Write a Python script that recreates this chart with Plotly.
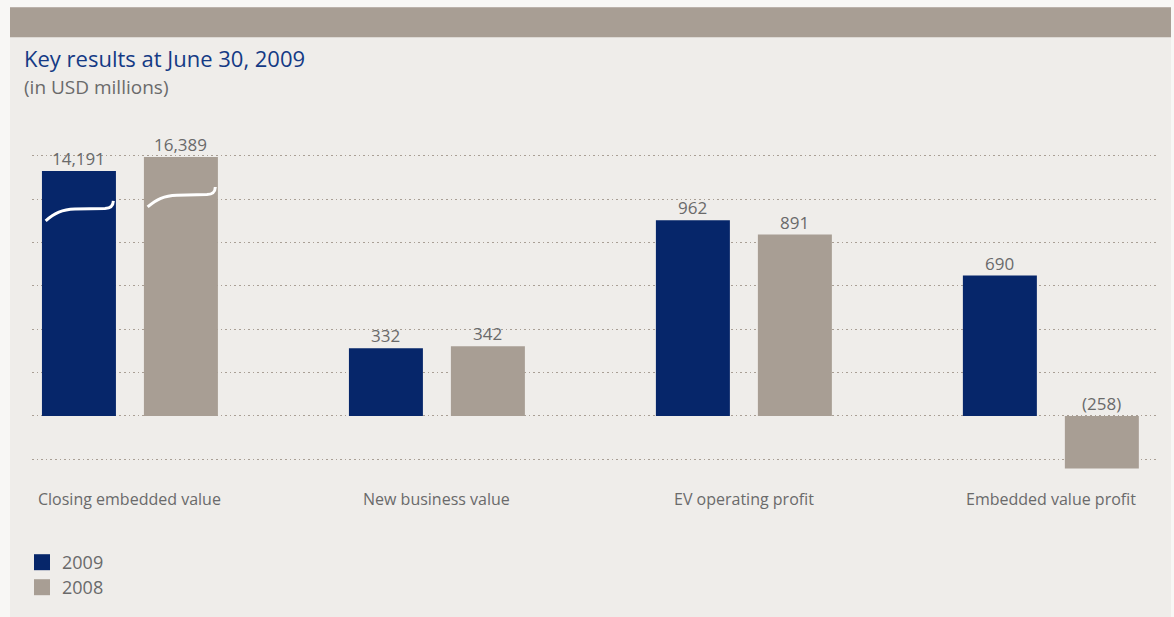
import plotly.graph_objects as go

# ---------------- data ----------------
categories = ["Closing embedded value", "New business value", "EV operating profit", "Embedded value profit"]
series_names = ["2009", "2008"]
values_2009 = [14191, 332, 962, 690]
values_2008 = [16389, 342, 891, -258]

# broken-axis transform: values above BREAK_THRESHOLD are drawn on a compressed scale
BREAK_THRESHOLD = 2000
BREAK_ORIGIN_VALUE = 14000
BREAK_ORIGIN_AXIS = 1198
BREAK_SCALE = 0.031


def axis_value(v):
    if v <= BREAK_THRESHOLD:
        return v
    return BREAK_ORIGIN_AXIS + (v - BREAK_ORIGIN_VALUE) * BREAK_SCALE


def fmt(v):
    return f"({abs(v):,})" if v < 0 else f"{v:,}"


# ---------------- layout constants ----------------
W, H = 1174, 617
ML, MR, MT, MB = 32, 16, 130, 137
PW, PH = W - ML - MR, H - MT - MB
Y_RANGE = [-310, 1405]
X_RANGE = [-0.319, 3.349]
GRID_STEP = 213
UNITS_PER_PX = (Y_RANGE[1] - Y_RANGE[0]) / PH
XUNITS_PER_PX = (X_RANGE[1] - X_RANGE[0]) / PW

NAVY = "#06266a"
TAUPE = "#a89e94"
TEXT = "#6a6a6a"
PANEL = "#efedea"
OUTER = "#f8f7f5"
FONT = "Open Sans"

BAR_W = 0.241
OFFSETS = [-0.2866, 0.0456]
COLORS = [NAVY, TAUPE]
LEGEND_Y_PX = [562.5, 587.5]


def px_x(px):
    return (px - ML) / PW


def px_y(py):
    return (H - MB - py) / PH


fig = go.Figure()
x_pos = list(range(len(categories)))
all_series = [values_2009, values_2008]
legend_names = ["legend", "legend2"]

for name, vals, off, col, lg in zip(series_names, all_series, OFFSETS, COLORS, legend_names):
    fig.add_trace(go.Bar(
        x=x_pos, y=[axis_value(v) for v in vals], width=BAR_W, offset=off,
        marker=dict(color=col, line=dict(width=0)), name=name, showlegend=False,
        hovertext=[fmt(v) for v in vals], hoverinfo="text"))
    # legend proxy
    fig.add_trace(go.Scatter(
        x=[None], y=[None], mode="markers", name=name, legend=lg,
        marker=dict(symbol="square", size=16, color=col)))

annotations = []
shapes = []

# value labels and break marks
for vals, off in zip(all_series, OFFSETS):
    for i, v in enumerate(vals):
        xc = i + off + BAR_W / 2
        top = axis_value(v)
        annotations.append(dict(
            x=xc, y=max(top, 0), xref="x", yref="y", text=fmt(v), showarrow=False,
            yanchor="bottom", xanchor="center", yshift=-1,
            font=dict(family=FONT, size=17, color=TEXT)))
        if v > BREAK_THRESHOLD:
            xl = i + off

            def P(dx, dy):
                return f"{xl + dx * XUNITS_PER_PX:.5f},{top - dy * UNITS_PER_PX:.3f}"
            path = (f"M{P(3.7, 50)} C{P(13, 42)} {P(20, 38.8)} {P(33, 38.3)} "
                    f"L{P(63, 37.6)} C{P(69, 37.3)} {P(71.2, 35)} {P(71.4, 30)}")
            shapes.append(dict(type="path", path=path, xref="x", yref="y",
                               line=dict(color="white", width=3), layer="above"))

# category labels
for i, c in enumerate(categories):
    annotations.append(dict(
        x=i, y=px_y(500), xref="x", yref="paper", text=c, showarrow=False,
        xanchor="center", yanchor="middle",
        font=dict(family=FONT, size=16, color=TEXT)))

# title & subtitle
annotations.append(dict(
    x=px_x(22), y=px_y(58), xref="paper", yref="paper", text="Key results at June 30, 2009",
    showarrow=False, xanchor="left", yanchor="middle",
    font=dict(family=FONT, size=22, color="#143a85")))
annotations.append(dict(
    x=px_x(22), y=px_y(87), xref="paper", yref="paper", text="(in USD millions)",
    showarrow=False, xanchor="left", yanchor="middle",
    font=dict(family=FONT, size=19, color=TEXT)))

# panel and top band
shapes.insert(0, dict(type="rect", xref="paper", yref="paper",
                      x0=px_x(10), x1=px_x(1171), y0=px_y(H + 2), y1=px_y(7),
                      fillcolor=PANEL, line=dict(width=0), layer="below"))
shapes.insert(1, dict(type="rect", xref="paper", yref="paper",
                      x0=px_x(10), x1=px_x(1171), y0=px_y(37), y1=px_y(7),
                      fillcolor=TAUPE, line=dict(width=0), layer="below"))

grid_vals = [k * GRID_STEP for k in range(-1, 7)]

legend_style = dict(xanchor="left", yanchor="middle", orientation="v",
                    bgcolor="rgba(0,0,0,0)", borderwidth=0,
                    font=dict(family=FONT, size=18, color=TEXT),
                    itemclick=False, itemdoubleclick=False)

fig.update_layout(
    width=W, height=H,
    margin=dict(l=ML, r=MR, t=MT, b=MB, pad=0),
    paper_bgcolor=OUTER, plot_bgcolor="rgba(0,0,0,0)",
    barmode="overlay",
    xaxis=dict(range=X_RANGE, showgrid=False, zeroline=False, showticklabels=False,
               ticks="", fixedrange=True),
    yaxis=dict(range=Y_RANGE, tickvals=grid_vals, showticklabels=False, ticks="",
               showgrid=True, gridcolor="#a99f95", griddash="1.6px,3px", gridwidth=1.4,
               zeroline=False, fixedrange=True),
    legend=dict(x=px_x(22), y=px_y(LEGEND_Y_PX[0]), **legend_style),
    legend2=dict(x=px_x(22), y=px_y(LEGEND_Y_PX[1]), **legend_style),
    annotations=annotations, shapes=shapes,
    showlegend=True,
)

fig.write_html(
    "out.html", config={"displayModeBar": False},
    post_script="document.documentElement.style.margin='0';document.body.style.margin='0';"
                "document.body.style.padding='0';document.body.style.overflow='hidden';"
                "document.documentElement.style.overflow='hidden';")
